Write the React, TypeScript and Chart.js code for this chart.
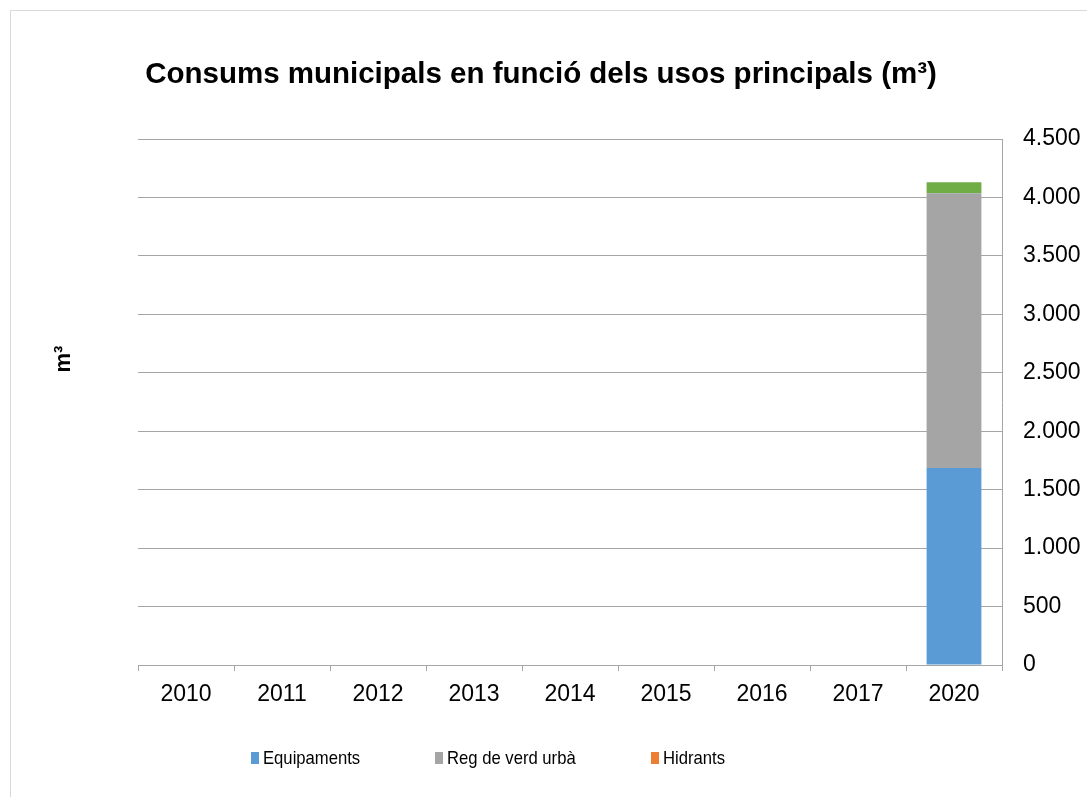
import React, { useEffect, useRef } from 'react';
import { Chart, registerables } from 'chart.js';

Chart.register(...registerables);

const FONT = "'Liberation Sans', Arial, sans-serif";

const categories = ['2010', '2011', '2012', '2013', '2014', '2015', '2016', '2017', '2020'];
const equipaments = [null, null, null, null, null, null, null, null, 1685];
const regVerdUrba = [null, null, null, null, null, null, null, null, 2350];
const hidrants = [null, null, null, null, null, null, null, null, 0];
const altres = [null, null, null, null, null, null, null, null, 95];

const yMin = 0;
const yMax = 4500;
const yStep = 500;

const titleText = 'Consums municipals en funció dels usos principals (m³)';
const yTitleText = 'm³';

const seriesNames = ['Equipaments', 'Reg de verd urbà', 'Hidrants', 'Altres'];
const seriesColors = ['#5B9BD5', '#A5A5A5', '#ED7D31', '#70AD47'];
const legendSeries = [0, 1, 2];
const legendBoxX = [240, 424, 640];

const fmt = (v: number) => String(Math.round(v)).replace(/\B(?=(\d{3})+(?!\d))/g, '.');

const yTitlePlugin = {
  id: 'yTitlePlugin',
  afterDraw(chart: any) {
    const ctx = chart.ctx;
    ctx.save();
    ctx.fillStyle = '#000';
    ctx.font = `bold 22px ${FONT}`;
    ctx.translate(69, 348);
    ctx.rotate(-Math.PI / 2);
    ctx.textAlign = 'center';
    ctx.textBaseline = 'middle';
    ctx.fillText(yTitleText, 0, 0);
    ctx.restore();
  },
};

export default function App() {
  const ref = useRef<HTMLCanvasElement | null>(null);

  useEffect(() => {
    if (!ref.current) return;
    const series = [equipaments, regVerdUrba, hidrants, altres];
    const chart = new Chart(ref.current, {
      type: 'bar',
      data: {
        labels: categories,
        datasets: series.map((d, i) => ({
          label: seriesNames[i],
          data: d,
          backgroundColor: seriesColors[i],
          borderWidth: 0,
          categoryPercentage: 0.571,
          barPercentage: 1,
          stack: 's',
        })),
      },
      options: {
        animation: false,
        responsive: false,
        devicePixelRatio: 1,
        layout: { padding: { left: 0, right: 0, top: 0, bottom: 92 } },
        plugins: {
          legend: { display: false },
          tooltip: { enabled: false },
          title: {
            display: true,
            text: titleText,
            color: '#000',
            font: { family: FONT, size: 29.5, weight: 'bold' },
            padding: { top: 46, bottom: 46.6 },
          },
        },
        scales: {
          x: {
            stacked: true,
            offset: true,
            grid: {
              offset: true,
              drawOnChartArea: false,
              drawTicks: true,
              tickLength: 6,
              color: '#a6a6a6',
            },
            border: { display: true, color: '#a6a6a6' },
            ticks: {
              color: '#000',
              font: { family: FONT, size: 23 },
              padding: 10,
              maxRotation: 0,
              autoSkip: false,
            },
            afterFit: (s: any) => { s.height = 40; },
          },
          y: {
            stacked: true,
            position: 'right',
            min: yMin,
            max: yMax,
            grid: { color: '#a6a6a6', drawTicks: false },
            border: { display: true, color: '#a6a6a6' },
            ticks: {
              stepSize: yStep,
              color: '#000',
              font: { family: FONT, size: 23 },
              padding: 21,
              callback: (v: any) => fmt(Number(v)),
            },
            afterFit: (s: any) => { s.width = 85; },
          },
          yLeft: {
            position: 'left',
            display: true,
            grid: { display: false },
            border: { display: false },
            ticks: { display: false },
            afterFit: (s: any) => { s.width = 143; },
          },
        },
      },
      plugins: [yTitlePlugin],
    } as any);
    return () => chart.destroy();
  }, []);

  return (
    <div
      style={{
        position: 'fixed',
        left: 10,
        top: 10,
        width: 1100,
        height: 800,
        border: '1px solid #d9d9d9',
        background: '#fff',
        boxSizing: 'border-box',
      }}
    >
      <canvas
        ref={ref}
        width={1092}
        height={786}
        style={{ display: 'block', position: 'absolute', left: -16, top: 0 }}
      />
      {legendSeries.map((si, k) => (
        <div
          key={si}
          style={{
            position: 'absolute',
            left: legendBoxX[k],
            top: 735,
            height: 24,
            display: 'flex',
            alignItems: 'center',
            fontFamily: FONT,
            fontSize: 18.5,
            lineHeight: '24px',
            color: '#000',
            whiteSpace: 'nowrap',
          }}
        >
          <span style={{ display: 'inline-block', width: 8, height: 12, background: seriesColors[si], marginRight: 4 }} />
          <span style={{ display: 'inline-block', transform: 'scaleX(0.9)', transformOrigin: 'left center' }}>
            {seriesNames[si]}
          </span>
        </div>
      ))}
    </div>
  );
}
